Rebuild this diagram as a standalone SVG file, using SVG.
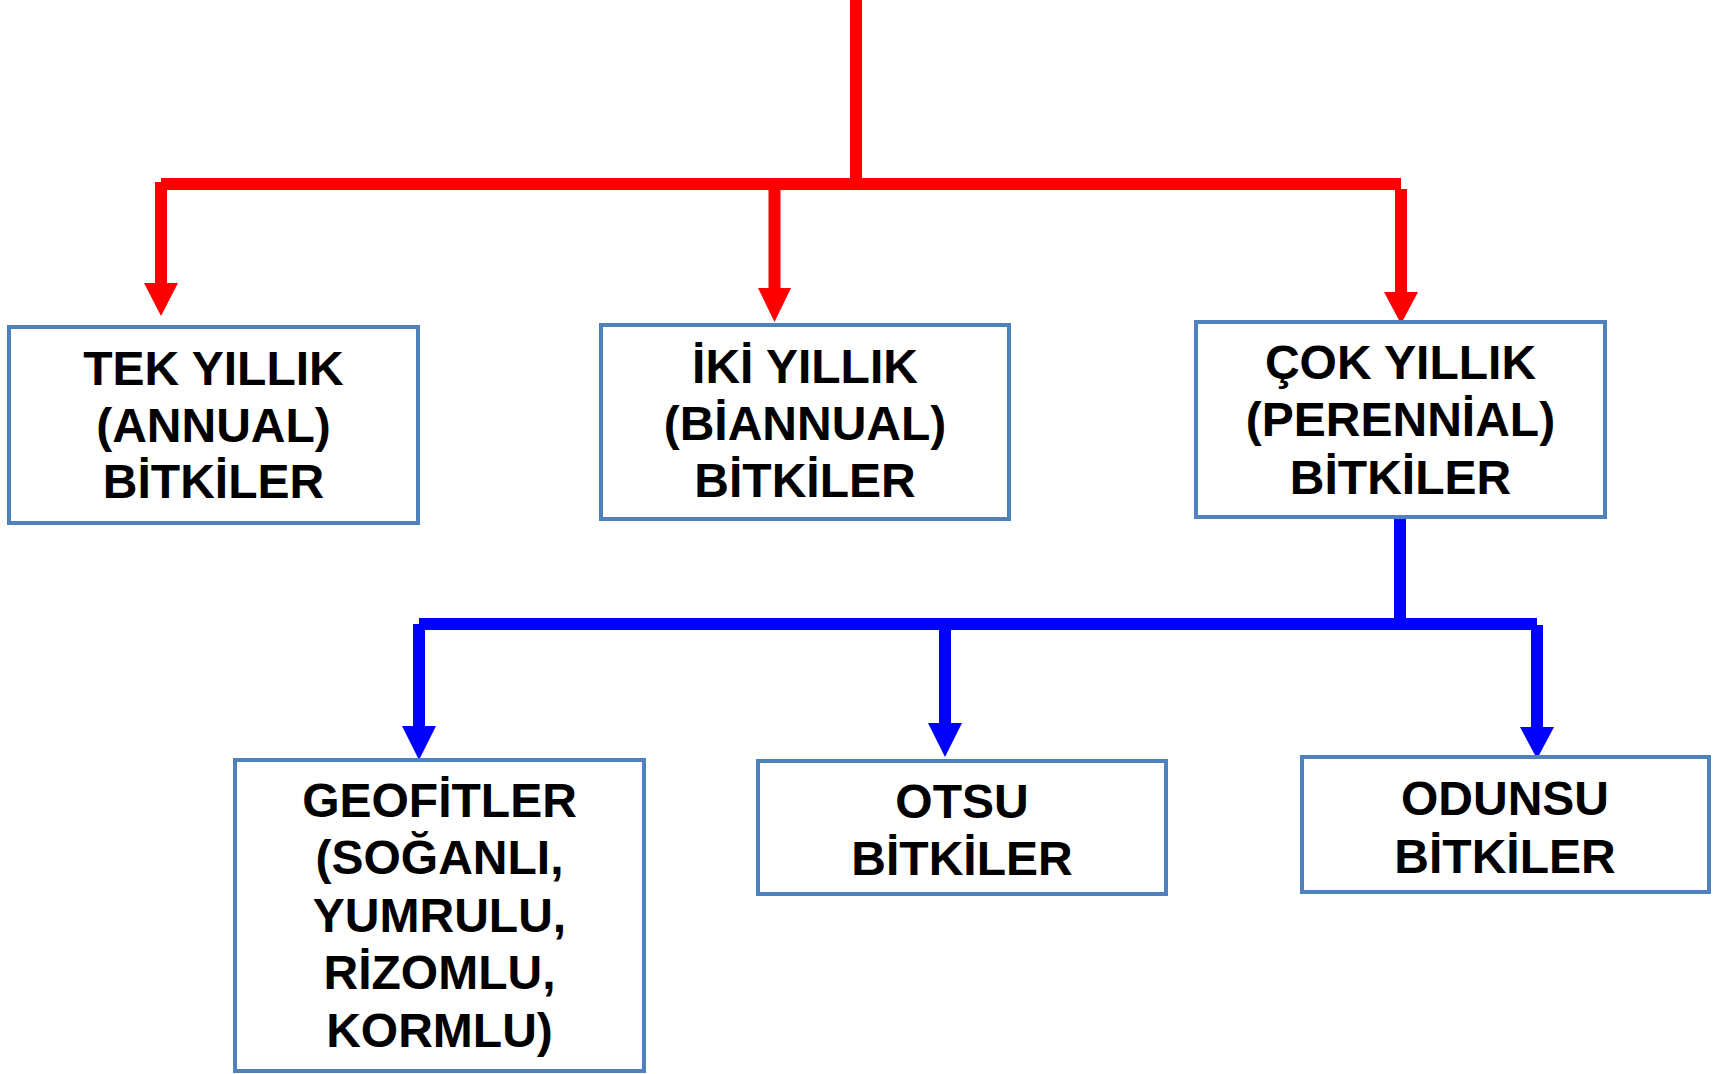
<svg xmlns="http://www.w3.org/2000/svg" width="1729" height="1074" viewBox="0 0 1729 1074">
<style>
.red{stroke:#ff0000;stroke-width:12;fill:none}
.blue{stroke:#0000ff;stroke-width:12;fill:none}
.rh{fill:#ff0000}
.bh{fill:#0000ff}
.box{fill:#ffffff;stroke:#4f81bd;stroke-width:4}
.t{font-family:"Liberation Sans",Arial,sans-serif;font-weight:bold;font-size:48px;fill:#000000;text-anchor:middle}
</style>
<rect width="1729" height="1074" fill="#ffffff"/>
<g id="connectors">
<path class="red" d="M856 0 V184"/>
<path class="red" d="M161 184 H1401"/>
<path class="red" d="M161 182 V284"/>
<path class="red" d="M774.5 184 V289"/>
<path class="red" d="M1401 189 V293"/>
<polygon class="rh" points="144,283 178,283 161,316"/>
<polygon class="rh" points="758,288 791,288 774.5,322"/>
<polygon class="rh" points="1384,292 1418,292 1401,324"/>
<path class="blue" d="M1400 516 V624"/>
<path class="blue" d="M419 624 H1537"/>
<path class="blue" d="M419 624 V727"/>
<path class="blue" d="M945 624 V724"/>
<path class="blue" d="M1537 625 V728"/>
<polygon class="bh" points="402,726 436,726 419,760"/>
<polygon class="bh" points="928,723 962,723 945,757"/>
<polygon class="bh" points="1520,727 1554,727 1537,759"/>
</g>
<g id="node-tek">
<rect class="box" x="9" y="327" width="409" height="196"/>
<text class="t" x="213.5" y="385">TEK YILLIK</text>
<text class="t" x="213.5" y="441.5">(ANNUAL)</text>
<text class="t" x="213.5" y="498">BİTKİLER</text>
</g>
<g id="node-iki">
<rect class="box" x="601" y="325" width="408" height="194"/>
<text class="t" x="805" y="383">İKİ YILLIK</text>
<text class="t" x="805" y="440">(BİANNUAL)</text>
<text class="t" x="805" y="497">BİTKİLER</text>
</g>
<g id="node-cok">
<rect class="box" x="1196" y="322" width="409" height="195"/>
<text class="t" x="1400.5" y="378.5">ÇOK YILLIK</text>
<text class="t" x="1400.5" y="436">(PERENNİAL)</text>
<text class="t" x="1400.5" y="493.5">BİTKİLER</text>
</g>
<g id="node-geofit">
<rect class="box" x="235" y="760" width="409" height="311"/>
<text class="t" x="439.5" y="817">GEOFİTLER</text>
<text class="t" x="439.5" y="874">(SOĞANLI,</text>
<text class="t" x="439.5" y="931.5">YUMRULU,</text>
<text class="t" x="439.5" y="989">RİZOMLU,</text>
<text class="t" x="439.5" y="1046.5">KORMLU)</text>
</g>
<g id="node-otsu">
<rect class="box" x="758" y="761" width="408" height="133"/>
<text class="t" x="962" y="818">OTSU</text>
<text class="t" x="962" y="875">BİTKİLER</text>
</g>
<g id="node-odunsu">
<rect class="box" x="1302" y="757" width="407" height="135"/>
<text class="t" x="1505" y="815">ODUNSU</text>
<text class="t" x="1505" y="873">BİTKİLER</text>
</g>
</svg>
